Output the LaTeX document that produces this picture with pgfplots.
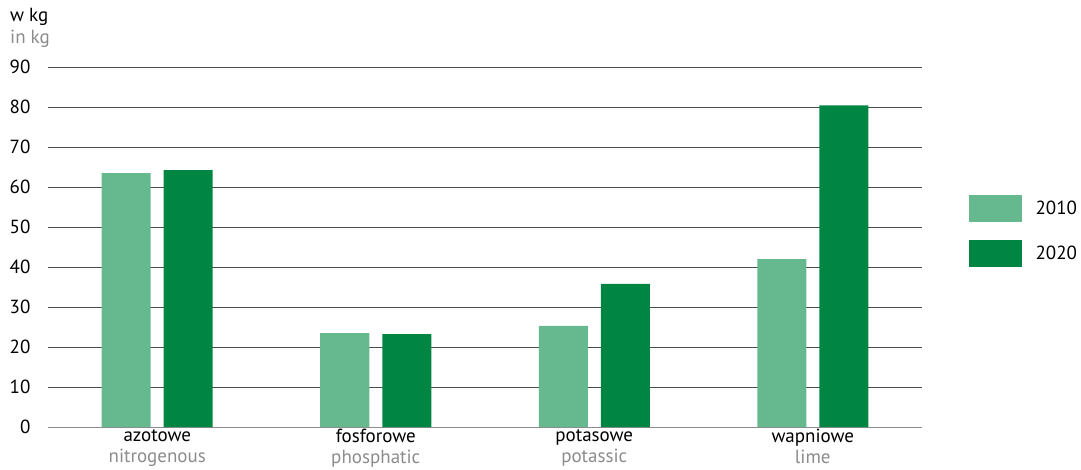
\documentclass[border=0pt]{standalone}
\usepackage{pgfplots}
\pgfplotsset{compat=1.18}
\usepackage{fontspec}
\setmainfont{PT Sans}
\definecolor{lightg}{RGB}{102,184,142}
\definecolor{darkg}{RGB}{0,133,66}
\definecolor{subg}{RGB}{140,140,140}
\begin{document}
\begin{tikzpicture}
\begin{axis}[
  scale only axis, width=874pt, height=360pt,
  xmin=-0.5, xmax=3.5, ymin=0, ymax=90,
  ytick={0,10,...,90},
  xtick={0,1,2,3},
  xticklabels={{azotowe\\\textcolor{subg}{nitrogenous}},{fosforowe\\\textcolor{subg}{phosphatic}},{potasowe\\\textcolor{subg}{potassic}},{wapniowe\\\textcolor{subg}{lime}}},
  xticklabel style={align=center, font=\fontsize{19}{21}\selectfont, yshift=1pt},
  yticklabel style={font=\fontsize{19}{21}\selectfont, xshift=-14pt},
  /pgf/number format/assume math mode=true,
  major tick length=0pt,
  axis lines*=left,
  y axis line style={draw=none},
  x axis line style={draw=subg, line width=1pt},
  ymajorgrids, grid style={draw=black!70, line width=0.8pt},
  clip=false,
  legend style={draw=none, at={(1.053,0.644)}, anchor=north west, inner sep=0pt, font=\fontsize{19}{21}\selectfont, row sep=18pt, /tikz/every odd column/.append style={column sep=12pt}},
  legend image code/.code={\fill[#1] (0pt,-13.5pt) rectangle (53pt,13.5pt);},
]
\addplot[ybar, bar width=49pt, bar shift=-31pt, fill=lightg, draw=none] coordinates {(0,63.5) (1,23.5) (2,25.3) (3,42)};
\addplot[ybar, bar width=49pt, bar shift=31pt, fill=darkg, draw=none] coordinates {(0,64.2) (1,23.2) (2,35.8) (3,80.4)};
\legend{2010,2020}
\node[anchor=north west, align=left, inner sep=0pt, font=\fontsize{19}{22}\selectfont] at (rel axis cs:-0.0435,1.165) {w kg\\\textcolor{subg}{in kg}};
\coordinate (tl) at (rel axis cs:-0.0549,1.1861);
\coordinate (br) at (rel axis cs:1.1819,-0.1194);
\end{axis}
\pgfresetboundingbox
\useasboundingbox (tl) rectangle (br);
\end{tikzpicture}
\end{document}
